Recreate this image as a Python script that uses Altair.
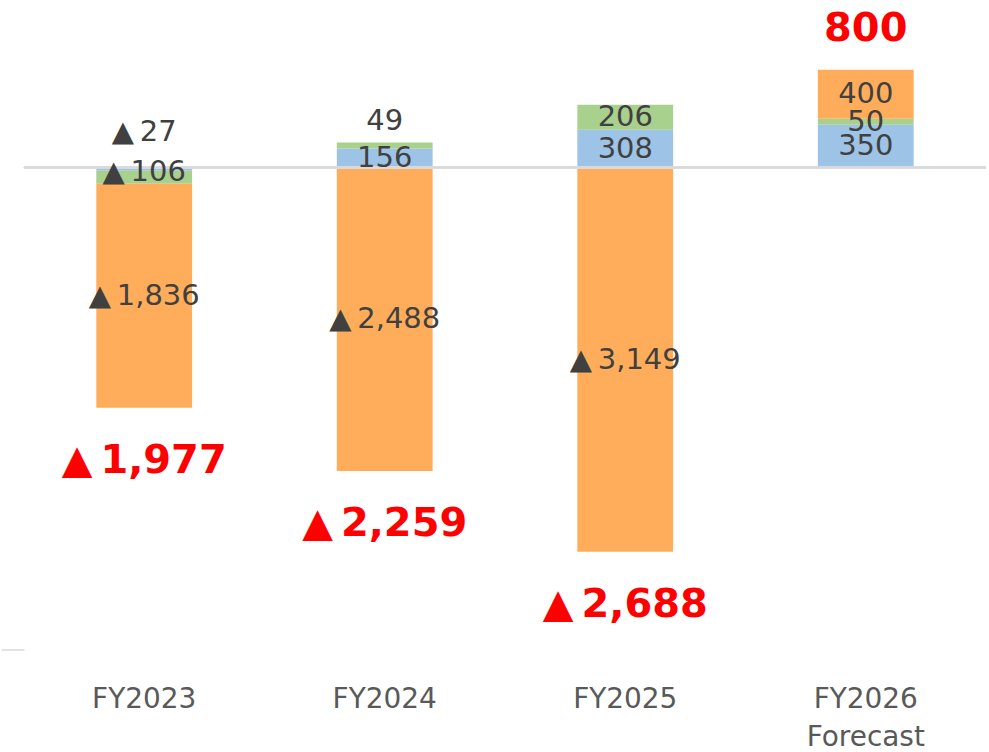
import altair as alt
import pandas as pd

categories = ["FY2023", "FY2024", "FY2025", "FY2026"]
series_names = ["blue", "green", "orange"]
blue_vals = [-27, 156, 308, 350]
green_vals = [-106, 49, 206, 50]
orange_vals = [-1836, -2488, -3149, 400]
totals = [-1977, -2259, -2688, 800]
x_labels = [["FY2023"], ["FY2024"], ["FY2025"], ["FY2026", "Forecast"]]

colors = {"blue": "#9DC3E6", "green": "#A9D18E", "orange": "#FFAD5A"}


def fmt(v):
    s = f"{abs(v):,}"
    return ("▲\u2009" + s) if v < 0 else s


rows = []
for i, cat in enumerate(categories):
    pos, neg = 0, 0
    for name, vals in zip(series_names, [blue_vals, green_vals, orange_vals]):
        v = vals[i]
        if v >= 0:
            y0, y1 = pos, pos + v
            pos = y1
        else:
            y0, y1 = neg, neg + v
            neg = y1
        rows.append({"cat": cat, "series": name, "v": v, "y0": y0, "y1": y1,
                     "mid": (y0 + y1) / 2, "label": fmt(v)})
seg = pd.DataFrame(rows)

tot_rows = []
for i, cat in enumerate(categories):
    t = totals[i]
    if t < 0:
        edge = sum(v for v in [blue_vals[i], green_vals[i], orange_vals[i]] if v < 0)
    else:
        edge = sum(v for v in [blue_vals[i], green_vals[i], orange_vals[i]] if v > 0)
    tot_rows.append({"cat": cat, "t": t, "edge": edge, "label": fmt(t), "neg": t < 0})
tot = pd.DataFrame(tot_rows)

label_map = {c: l for c, l in zip(categories, x_labels)}
label_expr = "{" + ",".join(
    f"'{c}': [" + ",".join(f"'{s}'" for s in l) + "]" for c, l in label_map.items()
) + "}[datum.value]"

x_enc = alt.X("cat:N", sort=categories,
              scale=alt.Scale(paddingInner=0.6017, paddingOuter=0.3008),
              axis=alt.Axis(title=None, ticks=False, domain=False, labelAngle=0,
                            labelFontSize=28, labelColor="#595959", labelFont="DejaVu Sans",
                            labelPadding=36, labelLineHeight=38, labelExpr=label_expr))
y_scale = alt.Scale(domain=[-3950, 1366], nice=False, zero=False)
y_axis = alt.Axis(title=None, values=[-3950], labels=False, domain=False, grid=False,
                  ticks=True, tickSize=23, tickColor="#D9D9D9", tickWidth=1.5)

base = alt.Chart(seg)

bars = base.mark_bar().encode(
    x=x_enc,
    y=alt.Y("y0:Q", scale=y_scale, axis=y_axis),
    y2="y1:Q",
    color=alt.Color("series:N", scale=alt.Scale(domain=list(colors.keys()),
                                                range=list(colors.values())), legend=None),
)

zero = alt.Chart(seg).mark_rule(color="#D9D9D9", strokeWidth=1.5).encode(y=alt.datum(0))

txt_kw = dict(font="DejaVu Sans", fontSize=29, color="#404040", baseline="middle", align="center")

special = "(datum.cat == 'FY2023' && datum.series != 'orange') || (datum.cat == 'FY2024' && datum.series == 'green')"
normal_labels = base.transform_filter("!(" + special + ")").mark_text(**txt_kw).encode(
    x=alt.X("cat:N", sort=categories), y=alt.Y("mid:Q"), text="label:N")
lab_23b = base.transform_filter("datum.cat == 'FY2023' && datum.series == 'blue'").mark_text(
    dy=-37, **txt_kw).encode(x=alt.X("cat:N", sort=categories), y="mid:Q", text="label:N")
lab_23g = base.transform_filter("datum.cat == 'FY2023' && datum.series == 'green'").mark_text(
    dy=-5, **txt_kw).encode(x=alt.X("cat:N", sort=categories), y="mid:Q", text="label:N")
lab_24g = base.transform_filter("datum.cat == 'FY2024' && datum.series == 'green'").mark_text(
    dy=-24, **txt_kw).encode(x=alt.X("cat:N", sort=categories), y="mid:Q", text="label:N")

tot_kw = dict(font="DejaVu Sans", fontSize=40, fontWeight="bold", color="#FF0000",
              baseline="middle", align="center")
tot_base = alt.Chart(tot)
tot_neg = tot_base.transform_filter("datum.neg").mark_text(dy=53, **tot_kw).encode(
    x=alt.X("cat:N", sort=categories), y="edge:Q", text="label:N")
tot_pos = tot_base.transform_filter("!datum.neg").mark_text(dy=-41, **tot_kw).encode(
    x=alt.X("cat:N", sort=categories), y="edge:Q", text="label:N")

chart = alt.layer(bars, zero, normal_labels, lab_23b, lab_23g, lab_24g, tot_neg, tot_pos).properties(
    width=964, height=650, background="white",
    padding={"left": 0, "top": 0, "right": 2, "bottom": 0},
).configure_view(stroke="transparent", strokeWidth=0)

chart.save("out.html", embed_options={"renderer": "svg", "actions": False})
